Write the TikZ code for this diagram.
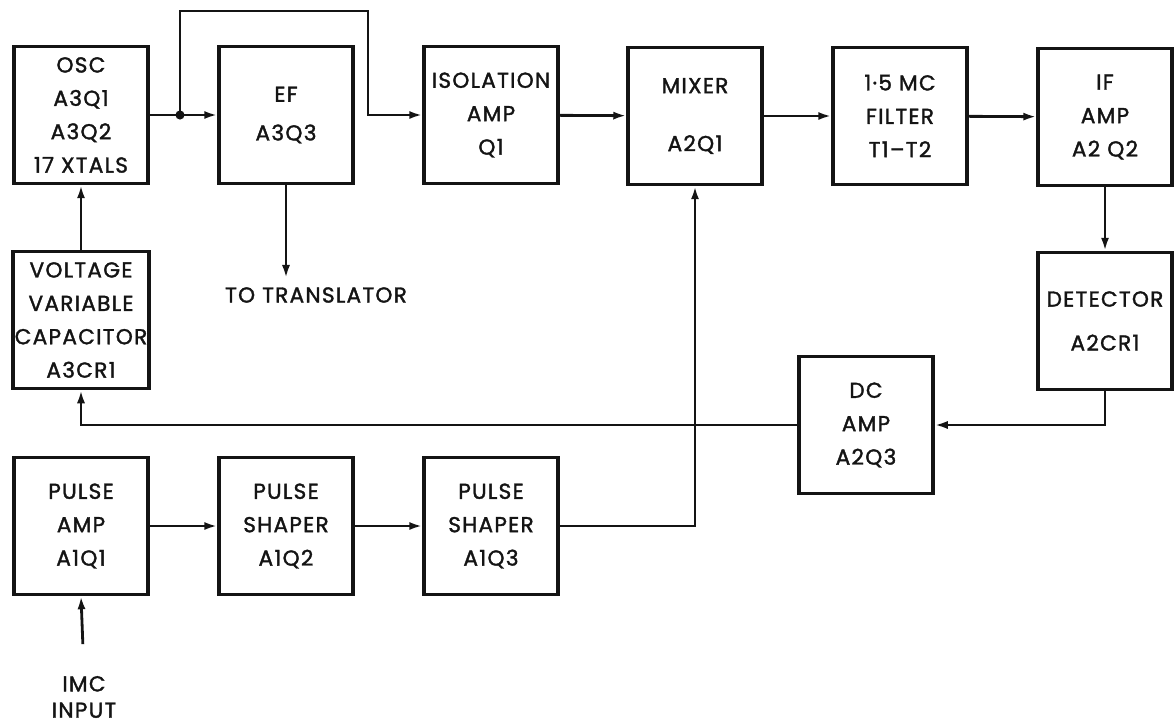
\documentclass[tikz,border=0pt]{standalone}
\usepackage{fontspec}
\setmainfont{Poppins}[LetterSpace=6,FakeBold=1.6]
\usetikzlibrary{arrows.meta,positioning}
\definecolor{Ink}{HTML}{141414}
\newcommand{\blkfont}{\fontsize{12.3}{19}\selectfont}
\tikzset{
  >={Latex[length=7.5pt,width=4.6pt]},
  blk/.style={draw=Ink,line width=1.8pt,minimum width=2.68cm,minimum height=2.74cm,align=center,inner sep=1pt,font=\blkfont,text=Ink},
  sig/.style={->,draw=Ink,line width=1.6pt},
  lab/.style={align=center,font=\blkfont,text=Ink,inner sep=1pt}
}

\begin{document}
\begin{tikzpicture}[x=0.02cm,y=-0.02cm]
  \useasboundingbox (0,0) rectangle (1176,727);
  % top row
  \node[blk] (osc) at (81,115) {OSC\\A3Q1\\A3Q2\\17 XTALS};
  \node[blk] (ef) at (286,115) {EF\\[3pt]A3Q3};
  \node[blk] (iso) at (491,115) {ISOLATION\\AMP\\Q1};
  \node[blk] (mix) at (695,116) {MIXER\\[14pt]A2Q1};
  \node[blk] (filt) at (900,116) {1·5 MC\\FILTER\\T1–T2};
  \node[blk] (ifa) at (1105,117) {IF\\AMP\\A2 Q2};
  % loop blocks
  \node[blk] (vvc) at (81,320) {VOLTAGE\\VARIABLE\\CAPACITOR\\A3CR1};
  \node[blk] (det) at (1105,321) {DETECTOR\\[6pt]A2CR1};
  \node[blk] (dca) at (866,425) {DC\\AMP\\A2Q3};
  % pulse chain
  \node[blk] (pamp) at (81,526) {PULSE\\AMP\\A1Q1};
  \node[blk] (psh1) at (286,526) {PULSE\\SHAPER\\A1Q2};
  \node[blk] (psh2) at (491,526) {PULSE\\SHAPER\\A1Q3};
  \node[lab] (trans) at (316,295) {TO TRANSLATOR};
  \node[lab,font=\fontsize{12.3}{15}\selectfont] (imc) at (84,697) {IMC\\INPUT};

  \coordinate (tap) at (180,115);
  \coordinate (loopa) at (180,11);
  \coordinate (loopb) at (368,11);
  \draw[sig] (osc) -- (ef);
  \fill[Ink] (tap) circle (2.6pt);
  \draw[sig] (tap) -- (loopa) -- (loopb) |- (iso);
  \draw[sig] (iso) -- (mix);
  \draw[sig] (mix) -- (filt);
  \draw[sig] (filt) -- (ifa);
  \draw[sig] (ifa) -- (det);
  \draw[sig] (det.south) |- (dca.east);
  \draw[sig] (dca.west) -| (vvc.south);
  \draw[sig] (vvc) -- (osc);
  \draw[sig,shorten >=4pt] (ef.south) -- (ef.south |- trans.north);
  \draw[sig] (pamp) -- (psh1);
  \draw[sig] (psh1) -- (psh2);
  \draw[sig] (psh2.east) -| (mix.south);
  \draw[sig,shorten <=17pt] (imc.north) -- (pamp.south);
\end{tikzpicture}
\end{document}
